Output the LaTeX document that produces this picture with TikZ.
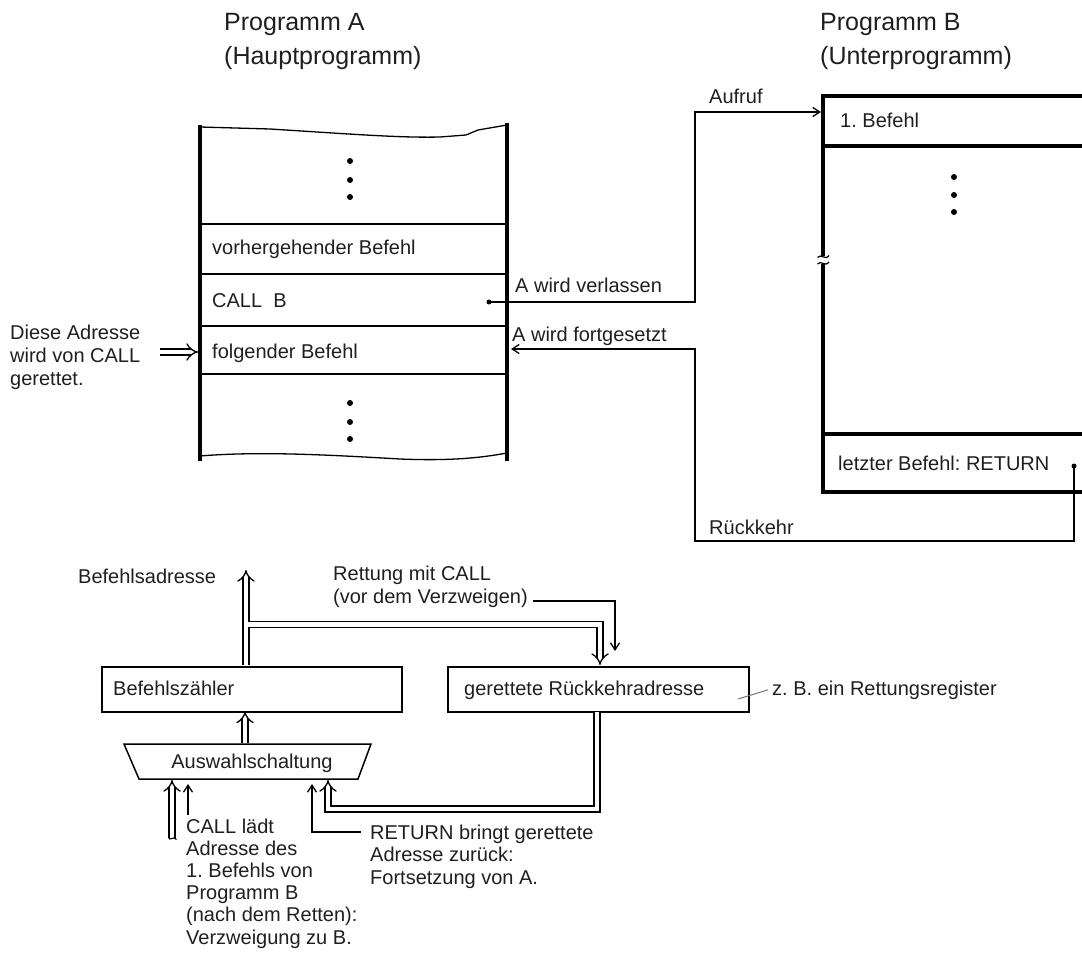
\documentclass[tikz,border=0pt]{standalone}
\usepackage{fontspec}
\setmainfont{Liberation Sans}
\usetikzlibrary{arrows.meta}
\frenchspacing

\begin{document}
\begin{tikzpicture}[x=1pt,y=-1pt,
  txt/.style={anchor=base west, inner sep=0pt, text=black!88,
    font=\fontsize{20}{22.2}\selectfont, align=left},
  title/.style={anchor=base west, inner sep=0pt, text=black!88,
    font=\fontsize{25}{34}\selectfont, align=left},
  wall/.style={line width=3.5pt},
  bwall/.style={line width=3.2pt},
  rule/.style={line width=2.2pt},
  plain/.style={line width=1.3pt},
  conn/.style={line width=1.3pt, -{Straight Barb[length=7pt,width=9pt]}},
  dbl/.style={double, double distance=4.8pt, line width=1.3pt, -{Implies}},
  endpt/.style={circle, fill, inner sep=0pt, minimum size=5pt},
  vdot/.style={circle, fill, inner sep=0pt, minimum size=6pt},
  reg/.style={draw, line width=1.5pt, inner sep=0pt, anchor=north west},
]
\useasboundingbox (0,0) rectangle (1082,963);

% ---------- titles (anchored at the baseline of their last line) ----------
\node[title] (ta) at (224,65) {Programm A\\(Hauptprogramm)};
\node[title] (tb) at (820,65) {Programm B\\(Unterprogramm)};

% ---------- program A (main program) ----------
\draw[wall] (200,125) -- (200,461);
\draw[wall] (507,123) -- (507,461);
\draw[plain] (200,127) -- (270,129) .. controls (350,134) and (400,138) .. (440,137)
  -- (466,135) -- (478,130) -- (507,125);
\draw[plain] (200,456) .. controls (260,451) and (330,455) .. (400,459)
  .. controls (450,461) and (480,458) .. (507,453);
\foreach \yy in {224,274,326,374} \draw[rule] (200,\yy) -- (507,\yy);
\foreach \yy in {161,180,197,403,422,439} \node[vdot] at (350,\yy) {};

\node[txt] (vor) at (212,254) {vorhergehender Befehl};
\node[txt] (call) at (212,307) {CALL\ \ B};
\node[txt] (folg) at (212,358) {folgender Befehl};

% saved address note
\node[txt, font=\fontsize{20}{23}\selectfont] (note) at (10,385)
  {Diese Adresse\\wird von CALL\\gerettet.};
\coordinate (noteout) at (160,352);
\coordinate (folgin) at (198,352);
\draw[dbl] (noteout) -- (folgin);

% ---------- program B (subroutine) ----------
\draw[bwall] (1083,96) -- (823,96) -- (823,256);
\draw[bwall] (823,264) -- (823,492) -- (1083,492);
\draw[bwall] (823,146) -- (1083,146);
\draw[bwall] (823,434) -- (1083,434);
% break mark on the left wall
\draw[line width=1.2pt] (817.5,257.5) .. controls (821,253) and (825,261) .. (829,255.5);
\draw[line width=1.2pt] (817.5,264) .. controls (821,259.5) and (825,267.5) .. (829,262);
\foreach \yy in {177,195,212} \node[vdot] at (954,\yy) {};

\node[txt] (first) at (840,128) {1. Befehl};
\node[txt] (last) at (838,470) {letzter Befehl: RETURN};

% ---------- call and return ----------
\node[endpt] (calldot) at (489,302) {};
\coordinate (bentry) at (821,112);
\draw[conn] (calldot.center) -- (695,302) -- (695,112) -- (bentry);
\node[txt] (aufruf) at (709,104) {Aufruf};
\node[txt] (verl) at (515,292) {A wird verlassen};

\node[endpt] (retdot) at (1074,466) {};
\coordinate (aentry) at (511,349);
\draw[conn] (retdot.center) -- (1074,541) -- (695,541) -- (695,349) -- (aentry);
\node[txt] (fort) at (512,341) {A wird fortgesetzt};
\node[txt] (rueck) at (709,534) {Rückkehr};

% ---------- registers ----------
\node[reg, minimum width=300pt, minimum height=45pt] (bz) at (101,666) {};
\node[txt] at (113,695) {Befehlszähler};
\node[reg, minimum width=301pt, minimum height=45pt] (gr) at (447,666) {};
\node[txt] at (464,695) {gerettete Rückkehradresse};
\node[txt] (zb) at (772,695) {z. B. ein Rettungsregister};
\draw[black!55, line width=1pt] (738,699) -- ([xshift=-4pt]zb.west);

% selector
\draw[line width=1.5pt] (124,744) -- (371,744) -- (358,779) -- (139,779) -- cycle;
\node[txt, anchor=base] (aw) at (252,768) {Auswahlschaltung};

% address paths
\coordinate (bzout) at (246,665);
\coordinate (adr) at (246,570);
\coordinate (split) at (246,624.5);
\coordinate (grin) at (600,665);
\draw[dbl] (split) -- (600,624.5) -- (grin);
\draw[dbl] (bzout) -- (adr);
\fill[white] (248,621.9) rectangle (250.6,627.1);
\node[txt] (badr) at (78,583) {Befehlsadresse};

\node[txt] (rett) at (333,603) {Rettung mit CALL\\(vor dem Verzweigen)};
\draw[conn] (533,601) -- (615,601) -- (615,651);

\draw[dbl] (245,743) -- (245,711.5);

\coordinate (grout) at (597,712);
\coordinate (awret) at (328,780);
\draw[dbl] (grout) -- (597,809) -- (328,809) -- (awret);

\coordinate (callin) at (172,780);
\draw[dbl] (172,838) -- (callin);
\draw[line width=1.1pt] (168.5,837.5) .. controls (170,842) and (173,835) .. (176.5,839.5);
\draw[conn] (188,815) -- (188,784);
\node[txt] (calltxt) at (186,944)
  {CALL lädt\\Adresse des\\1. Befehls von\\Programm B\\(nach dem Retten):\\Verzweigung zu B.};

\draw[conn] (361,832) -- (312,832) -- (312,784);
\node[txt] (rettxt) at (370,884) {RETURN bringt gerettete\\Adresse zurück:\\Fortsetzung von A.};

\end{tikzpicture}
\end{document}
